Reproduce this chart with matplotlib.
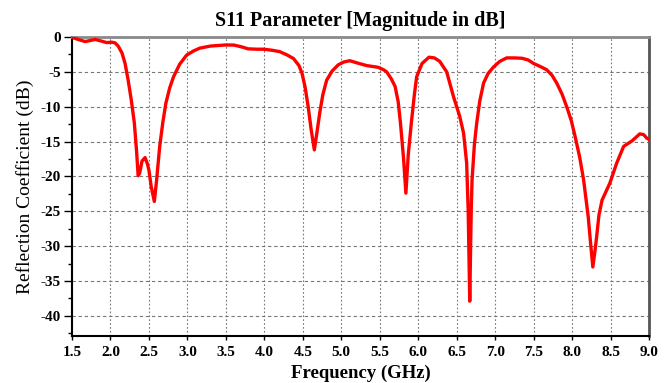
import matplotlib
matplotlib.use("Agg")
import matplotlib.pyplot as plt
from matplotlib.ticker import MultipleLocator

freq = [1.50, 1.58, 1.67, 1.74, 1.80, 1.87, 1.95, 2.02, 2.06, 2.10, 2.15, 2.19, 2.23, 2.27,
        2.31, 2.34, 2.36, 2.38, 2.41, 2.45, 2.48, 2.50, 2.53, 2.57, 2.60, 2.64, 2.68, 2.72,
        2.77, 2.82, 2.90, 2.99, 3.08, 3.16, 3.30, 3.49, 3.60, 3.70, 3.79, 3.90, 3.99, 4.10,
        4.20, 4.30, 4.38, 4.45, 4.49, 4.53, 4.57, 4.61, 4.65, 4.68, 4.72, 4.76, 4.81, 4.88,
        4.96, 5.03, 5.11, 5.20, 5.33, 5.48, 5.55, 5.59, 5.65, 5.70, 5.74, 5.77, 5.81, 5.84,
        5.87, 5.91, 5.95, 5.98, 6.05, 6.14, 6.21, 6.28, 6.37, 6.46, 6.54, 6.59, 6.63, 6.65,
        6.67, 6.68, 6.69, 6.70, 6.73, 6.76, 6.80, 6.85, 6.91, 6.98, 7.06, 7.15, 7.25, 7.35,
        7.43, 7.50, 7.58, 7.67, 7.74, 7.80, 7.87, 7.93, 7.99, 8.04, 8.10, 8.15, 8.21, 8.24,
        8.27, 8.30, 8.32, 8.35, 8.39, 8.44, 8.49, 8.58, 8.67, 8.78, 8.88, 8.93, 8.97, 9.00]

s11_db = [-0.05, -0.35, -0.65, -0.5, -0.35, -0.55, -0.8, -0.75, -0.85, -1.3, -2.3, -3.8, -6.2, -9.0,
          -12.3, -16.5, -19.9, -19.5, -17.8, -17.3, -18.2, -19.1, -21.5, -23.6, -20.5, -15.7, -12.3, -9.5,
          -7.3, -5.7, -3.9, -2.6, -2.0, -1.6, -1.3, -1.15, -1.15, -1.4, -1.7, -1.75, -1.75, -1.9,
          -2.1, -2.6, -3.1, -4.1, -5.2, -7.2, -10.0, -13.4, -16.2, -14.0, -10.9, -8.3, -6.2, -4.9,
          -4.0, -3.6, -3.4, -3.7, -4.1, -4.35, -4.7, -5.0, -6.0, -7.1, -9.3, -12.4, -17.5, -22.4,
          -17.0, -12.4, -8.3, -5.7, -3.8, -2.9, -3.0, -3.5, -5.0, -8.6, -11.4, -13.8, -18.1, -25.0,
          -37.9, -31.0, -24.5, -20.5, -15.5, -12.4, -9.2, -6.6, -5.2, -4.3, -3.5, -3.0, -3.0, -3.05,
          -3.3, -3.8, -4.2, -4.7, -5.5, -6.6, -8.2, -10.0, -12.0, -14.3, -17.3, -20.5, -25.8, -29.5,
          -33.0, -30.5, -28.6, -25.5, -23.4, -22.2, -21.0, -18.1, -15.7, -14.9, -13.9, -14.0, -14.5, -14.7]

x_ticks = [1.5, 2.0, 2.5, 3.0, 3.5, 4.0, 4.5, 5.0, 5.5, 6.0, 6.5, 7.0, 7.5, 8.0, 8.5, 9.0]
y_ticks = [0, -5, -10, -15, -20, -25, -30, -35, -40]

serif = ["Liberation Serif", "DejaVu Serif"]

fig = plt.figure(figsize=(6.7, 3.83), dpi=100)
ax = fig.add_axes([72 / 670, (383 - 336) / 383, (649 - 72) / 670, (336 - 37) / 383])

ax.plot(freq, s11_db, color="#ff0000", lw=2.4, solid_joinstyle="round", zorder=3)

ax.set_xlim(1.5, 9.0)
ax.set_ylim(-42.9, 0)
ax.set_xticks(x_ticks)
ax.set_xticklabels([f"{v:.1f}" for v in x_ticks])
ax.set_yticks(y_ticks)
ax.set_yticklabels([f"{v:d}" for v in y_ticks])
ax.yaxis.set_minor_locator(MultipleLocator(2.5))

for lbl in ax.get_xticklabels() + ax.get_yticklabels():
    lbl.set_fontfamily(serif)
    lbl.set_fontweight("bold")
    lbl.set_fontsize(11)

ax.tick_params(axis="both", which="both", direction="out", color="black", width=1.0)
ax.tick_params(axis="x", which="major", length=3, pad=4)
ax.tick_params(axis="y", which="major", length=6, pad=2)
ax.tick_params(axis="y", which="minor", length=3)

ax.grid(axis="x", which="major", color="#777777", linestyle=(0, (1.5, 2.0)), lw=0.8)
ax.grid(axis="y", which="major", color="#777777", linestyle=(0, (3.0, 2.5)), lw=0.8)

ax.spines["left"].set_color("black")
ax.spines["left"].set_linewidth(1.5)
ax.spines["bottom"].set_color("black")
ax.spines["bottom"].set_linewidth(1.5)
ax.spines["top"].set_color("#8a8a8a")
ax.spines["top"].set_linewidth(2.0)
ax.spines["right"].set_color("#555555")
ax.spines["right"].set_linewidth(2.0)

ax.set_title("S11 Parameter [Magnitude in dB]", fontfamily=serif, fontweight="bold",
             fontsize=14.5, pad=8)
ax.set_xlabel("Frequency (GHz)", fontfamily=serif, fontweight="bold", fontsize=13.5, labelpad=4)
ax.set_ylabel("Reflection Coefficient (dB)", fontfamily=serif, fontsize=14, labelpad=5)

fig.savefig("out.png", dpi=100)
